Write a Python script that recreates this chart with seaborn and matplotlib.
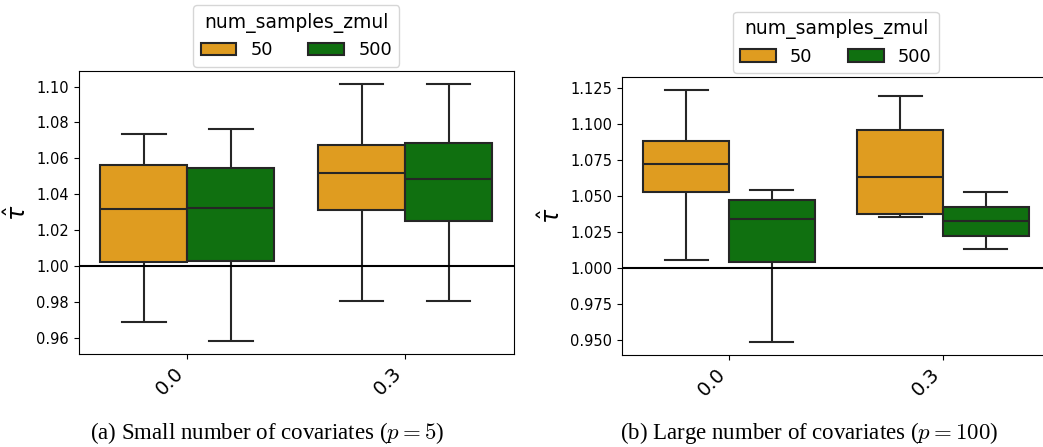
import numpy as np
import pandas as pd
import seaborn as sns
import matplotlib.pyplot as plt
plt.switch_backend('agg')

plt.rcParams['font.family'] = ['DejaVu Sans']

corr_levels = ['0.0', '0.3']
sample_sizes = [50, 500]

# five-number summaries (min, q1, median, q3, max)
# order: (0.0, 50), (0.0, 500), (0.3, 50), (0.3, 500)
small_p_stats = [
    [0.9685, 1.0020, 1.0319, 1.0563, 1.0737],
    [0.9581, 1.0028, 1.0324, 1.0544, 1.0765],
    [0.9806, 1.0311, 1.0520, 1.0674, 1.1015],
    [0.9802, 1.0250, 1.0485, 1.0683, 1.1015],
]
large_p_stats = [
    [1.0051, 1.0526, 1.0722, 1.0879, 1.1234],
    [0.9481, 1.0042, 1.0339, 1.0468, 1.0538],
    [1.0355, 1.0374, 1.0630, 1.0953, 1.1192],
    [1.0129, 1.0222, 1.0323, 1.0422, 1.0528],
]
captions = [r'(a) Small number of covariates ($p = 5$)',
            r'(b) Large number of covariates ($p = 100$)']


def build_df(stats):
    rows = []
    i = 0
    for c in corr_levels:
        for n in sample_sizes:
            for v in stats[i]:
                rows.append({'corr': c, 'num_samples_zmul': n, 'tau': v})
            i += 1
    return pd.DataFrame(rows)


def draw(ax, df):
    sns.boxplot(data=df, x='corr', y='tau', hue='num_samples_zmul',
                palette=['orange', 'green'], whis=(0, 100), linewidth=1.5, ax=ax)
    ax.axhline(1.0, color='black', lw=1.5)
    ax.set_xlabel('')
    ax.set_ylabel(r'$\hat{\tau}$', fontsize=17)
    ax.tick_params(axis='y', labelsize=10.5)
    ax.tick_params(axis='x', labelsize=14)
    plt.setp(ax.get_xticklabels(), rotation=45, ha='right')
    sns.move_legend(ax, 'lower center', bbox_to_anchor=(0.5, 1.0), ncol=2,
                    title='num_samples_zmul', frameon=True, fontsize=12.8,
                    title_fontsize=13.5, borderaxespad=0.25)


fig = plt.figure(figsize=(10.43, 4.47), dpi=100)
ax1 = fig.add_axes([0.0753, 0.2081, 0.4175, 0.633])
ax2 = fig.add_axes([0.5964, 0.2058, 0.4104, 0.6213])

draw(ax1, build_df(small_p_stats))
draw(ax2, build_df(large_p_stats))
ax2.yaxis.set_major_formatter(plt.FormatStrFormatter('%.3f'))

fig.text(0.2565, 0.031, captions[0], ha='center', va='center',
         family='Liberation Serif', math_fontfamily='cm', fontsize=16.5)
fig.text(0.7755, 0.031, captions[1], ha='center', va='center',
         family='Liberation Serif', math_fontfamily='cm', fontsize=16.5)

fig.savefig('out.png', dpi=100)
